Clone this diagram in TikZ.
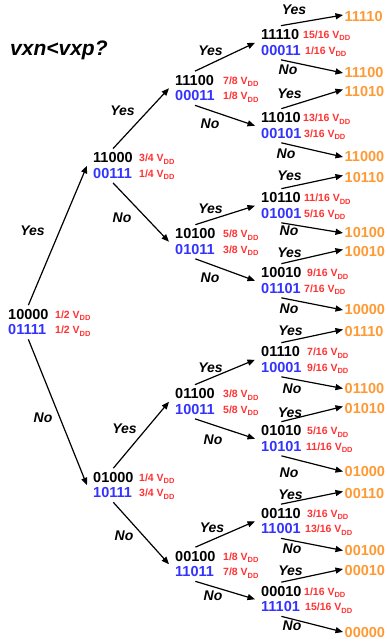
\documentclass[tikz,border=0pt]{standalone}
\usepackage{fontspec}
\setmainfont{Liberation Sans}
\usetikzlibrary{arrows.meta}
\definecolor{codeblue}{RGB}{51,51,255}
\definecolor{voltred}{RGB}{255,51,51}
\definecolor{leaforange}{RGB}{255,153,51}

% fraction of the supply voltage, e.g. \vdd{3/4}
\newcommand{\vdd}[1]{#1 V\raisebox{-2.4pt}{\fontsize{7.5}{7.5}\selectfont DD}}

\begin{document}
\begin{tikzpicture}[x=1pt,y=-1pt,
  pair/.style={anchor=west, align=left, inner xsep=6pt, inner ysep=4pt,
    font=\fontsize{14.5}{15.5}\selectfont\bfseries},
  leaf/.style={anchor=west, inner xsep=1.5pt, inner ysep=2pt, text=leaforange,
    font=\fontsize{14.5}{15.5}\selectfont\bfseries},
  volt/.style={anchor=base west, inner sep=0pt, text=voltred,
    font=\fontsize{10.5}{10.5}\selectfont\bfseries},
  answer/.style={inner sep=0pt, font=\fontsize{14}{14}\selectfont\bfseries\itshape},
  arr/.style={line width=1.2pt, -{Triangle[length=7.5pt,width=6pt]}},
]
\useasboundingbox (0,0) rectangle (386,642);

\node[anchor=west, inner sep=0pt, font=\fontsize{21}{21}\selectfont\bfseries\itshape]
  (question) at (10,50) {vxn<vxp?};

% comparator states: upper code black, complementary code blue
\node[pair] (n0)  at (2,322.25)   {10000\\\textcolor{codeblue}{01111}};
\node[pair] (n1a) at (87,165.75)  {11000\\\textcolor{codeblue}{00111}};
\node[pair] (n1b) at (87,485.25)  {01000\\\textcolor{codeblue}{10111}};
\node[pair] (n2a) at (169,88.25)  {11100\\\textcolor{codeblue}{00011}};
\node[pair] (n2b) at (169,241.75) {10100\\\textcolor{codeblue}{01011}};
\node[pair] (n2c) at (169,401.75) {01100\\\textcolor{codeblue}{10011}};
\node[pair] (n2d) at (169,564.25) {00100\\\textcolor{codeblue}{11011}};
\node[pair] (n3a) at (255,42.75)  {11110\\\textcolor{codeblue}{00011}};
\node[pair] (n3b) at (255,125.75) {11010\\\textcolor{codeblue}{00101}};
\node[pair] (n3c) at (255,205.75) {10110\\\textcolor{codeblue}{01001}};
\node[pair] (n3d) at (255,280.75) {10010\\\textcolor{codeblue}{01101}};
\node[pair] (n3e) at (255,359.75) {01110\\\textcolor{codeblue}{10001}};
\node[pair] (n3f) at (255,438.75) {01010\\\textcolor{codeblue}{10101}};
\node[pair] (n3g) at (255,521.25) {00110\\\textcolor{codeblue}{11001}};
\node[pair] (n3h) at (255,599.25) {00010\\\textcolor{codeblue}{11101}};

% final codes
\node[leaf] (l1)  at (343,17)    {11110};
\node[leaf] (l2)  at (343,73)    {11100};
\node[leaf] (l3)  at (343,91.5)  {11010};
\node[leaf] (l4)  at (343,157)   {11000};
\node[leaf] (l5)  at (343,177.5) {10110};
\node[leaf] (l6)  at (343,233)   {10100};
\node[leaf] (l7)  at (343,251.5) {10010};
\node[leaf] (l8)  at (343,310)   {10000};
\node[leaf] (l9)  at (343,331.5) {01110};
\node[leaf] (l10) at (343,388.5) {01100};
\node[leaf] (l11) at (343,408.5) {01010};
\node[leaf] (l12) at (343,471.5) {01000};
\node[leaf] (l13) at (343,493.5) {00110};
\node[leaf] (l14) at (343,550.5) {00100};
\node[leaf] (l15) at (343,571)   {00010};
\node[leaf] (l16) at (343,632)   {00000};

% voltage levels
\node[volt] (v0a)  at (55,318.1)  {\vdd{1/2}};
\node[volt] (v0b)  at (55,333.6)  {\vdd{1/2}};
\node[volt] (v1aa) at (139,161.6) {\vdd{3/4}};
\node[volt] (v1ab) at (139,177.1) {\vdd{1/4}};
\node[volt] (v1ba) at (139,481.1) {\vdd{1/4}};
\node[volt] (v1bb) at (139,496.6) {\vdd{3/4}};
\node[volt] (v2aa) at (223,84.1)  {\vdd{7/8}};
\node[volt] (v2ab) at (223,99.6)  {\vdd{1/8}};
\node[volt] (v2ba) at (223,237.6) {\vdd{5/8}};
\node[volt] (v2bb) at (223,253.1) {\vdd{3/8}};
\node[volt] (v2ca) at (223,397.6) {\vdd{3/8}};
\node[volt] (v2cb) at (223,413.1) {\vdd{5/8}};
\node[volt] (v2da) at (223,560.1) {\vdd{1/8}};
\node[volt] (v2db) at (223,575.6) {\vdd{7/8}};
\node[volt] (v3aa) at (303,38.6)  {\vdd{15/16}};
\node[volt] (v3ab) at (305,54.1)  {\vdd{1/16}};
\node[volt] (v3ba) at (303,121.6) {\vdd{13/16}};
\node[volt] (v3bb) at (304,137.1) {\vdd{3/16}};
\node[volt] (v3ca) at (304,201.6) {\vdd{11/16}};
\node[volt] (v3cb) at (304,217.1) {\vdd{5/16}};
\node[volt] (v3da) at (307,276.6) {\vdd{9/16}};
\node[volt] (v3db) at (304,292.1) {\vdd{7/16}};
\node[volt] (v3ea) at (307,355.6) {\vdd{7/16}};
\node[volt] (v3eb) at (307,371.1) {\vdd{9/16}};
\node[volt] (v3fa) at (307,434.6) {\vdd{5/16}};
\node[volt] (v3fb) at (306,450.1) {\vdd{11/16}};
\node[volt] (v3ga) at (307,517.1) {\vdd{3/16}};
\node[volt] (v3gb) at (305,532.6) {\vdd{13/16}};
\node[volt] (v3ha) at (304,595.1) {\vdd{1/16}};
\node[volt] (v3hb) at (305,610.6) {\vdd{15/16}};

% decision branches
\draw[arr] (n0.north) -- (n1a.west);
\draw[arr] (n0.south) -- (n1b.west);
\draw[arr] (n1a.north) -- (n2a.west);
\draw[arr] (n1a.south) -- (n2b.west);
\draw[arr] (n1b.north) -- (n2c.west);
\draw[arr] (n1b.south) -- (n2d.west);
\draw[arr] (n2a.north) -- (n3a.west);
\draw[arr] (n2a.south) -- (n3b.west);
\draw[arr] (n2b.north) -- (n3c.west);
\draw[arr] (n2b.south) -- (n3d.west);
\draw[arr] (n2c.north) -- (n3e.west);
\draw[arr] (n2c.south) -- (n3f.west);
\draw[arr] (n2d.north) -- (n3g.west);
\draw[arr] (n2d.south) -- (n3h.west);
\draw[arr] (n3a.north) -- ([yshift=2pt]l1.west);
\draw[arr] (n3a.south) -- (l2.west);
\draw[arr] (n3b.north) -- ([yshift=2pt]l3.west);
\draw[arr] (n3b.south) -- (l4.west);
\draw[arr] (n3c.north) -- ([yshift=2pt]l5.west);
\draw[arr] (n3c.south) -- (l6.west);
\draw[arr] (n3d.north) -- ([yshift=2pt]l7.west);
\draw[arr] (n3d.south) -- (l8.west);
\draw[arr] (n3e.north) -- ([yshift=2pt]l9.west);
\draw[arr] (n3e.south) -- (l10.west);
\draw[arr] (n3f.north) -- ([yshift=2pt]l11.west);
\draw[arr] (n3f.south) -- (l12.west);
\draw[arr] (n3g.north) -- ([yshift=2pt]l13.west);
\draw[arr] (n3g.south) -- (l14.west);
\draw[arr] (n3h.north) -- ([yshift=2pt]l15.west);
\draw[arr] (n3h.south) -- (l16.west);

% branch answers
\node[answer] (y0)  at (32.5,231)   {Yes};
\node[answer] (x0)  at (43,418)     {No};
\node[answer] (y1a) at (122.5,111)  {Yes};
\node[answer] (x1a) at (122,217.5)  {No};
\node[answer] (y1b) at (124.5,429)  {Yes};
\node[answer] (x1b) at (124,536)    {No};
\node[answer] (y2a) at (210.5,51)   {Yes};
\node[answer] (x2a) at (210,124)    {No};
\node[answer] (y2b) at (210.5,209)  {Yes};
\node[answer] (x2b) at (210,277.5)  {No};
\node[answer] (y2c) at (210.5,367.5){Yes};
\node[answer] (x2c) at (213,440)    {No};
\node[answer] (y2d) at (212,527.5)  {Yes};
\node[answer] (x2d) at (213,596)    {No};
\node[answer] (y3a) at (294,10)     {Yes};
\node[answer] (x3a) at (288,70)     {No};
\node[answer] (y3b) at (289.5,94)   {Yes};
\node[answer] (x3b) at (286,154)    {No};
\node[answer] (y3c) at (289.5,176)  {Yes};
\node[answer] (x3c) at (289,231)    {No};
\node[answer] (y3d) at (289.5,252.5){Yes};
\node[answer] (x3d) at (289,309)    {No};
\node[answer] (y3e) at (290.5,331)  {Yes};
\node[answer] (x3e) at (292,389)    {No};
\node[answer] (y3f) at (290,412.5)  {Yes};
\node[answer] (x3f) at (289,472.5)  {No};
\node[answer] (y3g) at (290.5,495)  {Yes};
\node[answer] (x3g) at (292,549)    {No};
\node[answer] (y3h) at (290.5,571)  {Yes};
\node[answer] (x3h) at (292,626)    {No};
\end{tikzpicture}
\end{document}
